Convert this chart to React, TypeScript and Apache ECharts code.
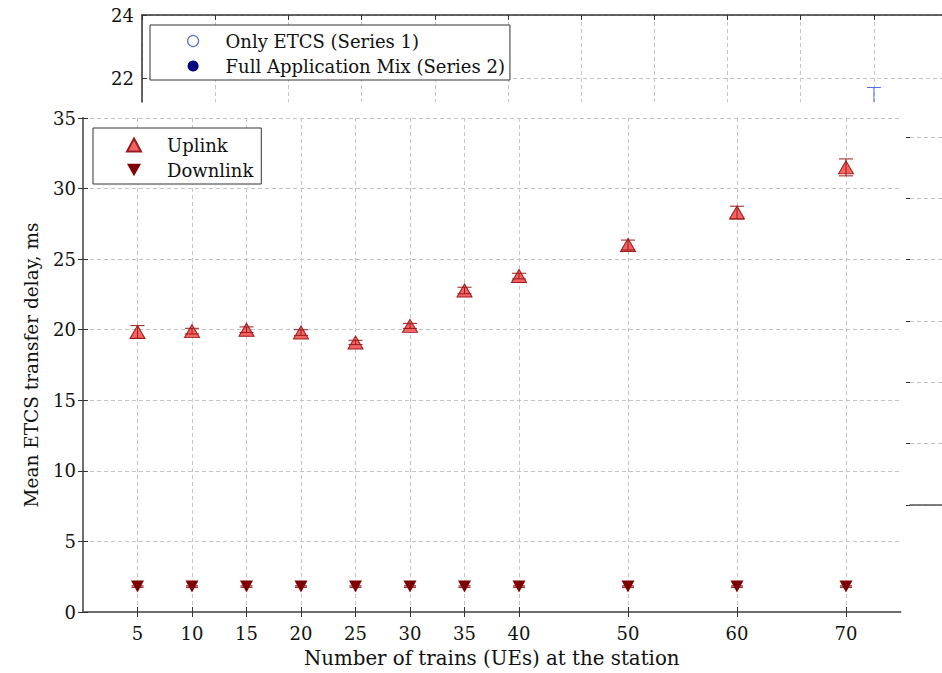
import React, { useEffect, useRef } from "react";
import * as echarts from "echarts";

// ---- Main chart data ----
const trains = [5, 10, 15, 20, 25, 30, 35, 40, 50, 60, 70];
const uplink = [19.84, 19.9, 20.0, 19.8, 19.1, 20.27, 22.78, 23.8, 26.0, 28.3, 31.5];
const uplinkErr = [0.45, 0.2, 0.2, 0.2, 0.15, 0.18, 0.23, 0.2, 0.35, 0.45, 0.6];
const downlink = [1.8, 1.8, 1.8, 1.8, 1.8, 1.8, 1.8, 1.8, 1.8, 1.8, 1.8];
const downlinkErr = [0.05, 0.05, 0.05, 0.05, 0.05, 0.05, 0.05, 0.05, 0.05, 0.05, 0.05];
const xTickLabels = [5, 10, 15, 20, 25, 30, 35, 40, 50, 60, 70];
const yTicks = [0, 5, 10, 15, 20, 25, 30, 35];

// ---- Partially visible background figure (top) ----
const topYTicks = [22, 24];
const series1X = [10];
const series1Y = [21.1];
const series1Err = [0.6];

const FONT = "DejaVu Serif";
const UP_FILL = "#f46262";
const UP_EDGE = "#9b1c1c";
const DOWN_FILL = "#7f0000";
const GRIDC = "#c4c4c4";

function makeErrRender(color: string, capHalf: number) {
  return (params: any, api: any) => {
    const x = api.value(0);
    const y = api.value(1);
    const e = api.value(2);
    const top = api.coord([x, y + e]);
    const bot = api.coord([x, y - e]);
    const cs = params.coordSys;
    const yMin = cs.y;
    const yMax = cs.y + cs.height;
    const clamp = (v: number) => Math.max(yMin, Math.min(yMax, v));
    const style = { stroke: color, lineWidth: 1, fill: "none" };
    const children: any[] = [];
    const t = clamp(top[1]);
    const b = clamp(bot[1]);
    if (b > t) {
      children.push({ type: "line", shape: { x1: top[0], y1: t, x2: top[0], y2: b }, style });
    }
    if (top[1] >= yMin && top[1] <= yMax) {
      children.push({ type: "line", shape: { x1: top[0] - capHalf, y1: top[1], x2: top[0] + capHalf, y2: top[1] }, style });
    }
    if (bot[1] >= yMin && bot[1] <= yMax) {
      children.push({ type: "line", shape: { x1: bot[0] - capHalf, y1: bot[1], x2: bot[0] + capHalf, y2: bot[1] }, style });
    }
    return { type: "group", children };
  };
}

export default function App() {
  const ref = useRef<HTMLDivElement>(null);

  useEffect(() => {
    if (!ref.current) return;
    const chart = echarts.init(ref.current, null, { renderer: "svg" });

    const upData = trains.map((t, i) => [t, uplink[i]]);
    const downData = trains.map((t, i) => [t, downlink[i]]);
    const upErrData = trains.map((t, i) => [t, uplink[i], uplinkErr[i]]);
    const downErrData = trains.map((t, i) => [t, downlink[i], downlinkErr[i]]);
    const s1ErrData = series1X.map((x, i) => [x, series1Y[i], series1Err[i]]);

    const labelStyle = { fontFamily: FONT, fontSize: 18, color: "#111" };
    const dashed = { show: true, lineStyle: { color: GRIDC, type: [4, 3] as any, width: 1 } };

    const option: any = {
      animation: false,
      backgroundColor: "#fff",
      textStyle: { fontFamily: FONT },
      grid: [
        { left: 83, top: 118, width: 817.5, height: 497 },
        { left: 142, top: 15, width: 800, height: 87 },
        { left: 910, top: 137, width: 34, height: 368 },
      ],
      xAxis: [
        {
          gridIndex: 0,
          type: "value",
          min: 0,
          max: 75,
          interval: 5,
          position: "bottom",
          axisLine: { show: true, lineStyle: { color: "#222", width: 1.5 } },
          axisTick: { show: true, inside: true, length: 5, lineStyle: { color: "#333" }, customValues: xTickLabels },
          axisLabel: { ...labelStyle, margin: 12, customValues: xTickLabels },
          splitLine: dashed,
          name: "Number of trains (UEs) at the station",
          nameLocation: "middle",
          nameGap: 36,
          nameTextStyle: { fontFamily: FONT, fontSize: 19.8, color: "#111" },
        },
        {
          gridIndex: 0,
          type: "value",
          min: 0,
          max: 75,
          interval: 5,
          position: "top",
          axisLine: { show: true, lineStyle: { color: "#777", width: 1.5 } },
          axisTick: { show: true, inside: true, length: 5, lineStyle: { color: "#333" }, customValues: xTickLabels },
          axisLabel: { show: false },
          splitLine: { show: false },
        },
        {
          gridIndex: 1,
          type: "value",
          min: 0,
          max: 10.93,
          interval: 1,
          position: "top",
          axisLine: { show: true, lineStyle: { color: "#333", width: 1.5 } },
          axisTick: { show: true, inside: true, length: 5, lineStyle: { color: "#333" } },
          axisLabel: { show: false },
          splitLine: dashed,
        },
        {
          gridIndex: 2,
          type: "value",
          min: 0,
          max: 1,
          position: "bottom",
          axisLine: { show: true, lineStyle: { color: "#555", width: 1.5 } },
          axisTick: { show: false },
          axisLabel: { show: false },
          splitLine: { show: false },
        },
      ],
      yAxis: [
        {
          gridIndex: 0,
          type: "value",
          min: 0,
          max: 35,
          interval: 5,
          position: "left",
          axisLine: { show: true, lineStyle: { color: "#222", width: 1.5 } },
          axisTick: { show: true, inside: true, length: 5, lineStyle: { color: "#333" } },
          axisLabel: { ...labelStyle, margin: 7, customValues: yTicks },
          splitLine: dashed,
          name: "Mean ETCS transfer delay, ms",
          nameLocation: "middle",
          nameGap: 42,
          nameTextStyle: { fontFamily: FONT, fontSize: 18.5, color: "#111" },
        },
        {
          gridIndex: 0,
          type: "value",
          min: 0,
          max: 35,
          interval: 5,
          position: "right",
          axisLine: { show: true, lineStyle: { color: "#777", width: 1.5 } },
          axisTick: { show: true, inside: true, length: 5, lineStyle: { color: "#333" } },
          axisLabel: { show: false },
          splitLine: { show: false },
        },
        {
          gridIndex: 1,
          type: "value",
          min: 21.24,
          max: 24,
          position: "left",
          axisLine: { show: true, lineStyle: { color: "#333", width: 1.5 } },
          axisTick: { show: true, inside: true, length: 5, lineStyle: { color: "#333" }, customValues: topYTicks },
          axisLabel: { ...labelStyle, margin: 8, customValues: topYTicks },
          splitLine: dashed,
        },
        {
          gridIndex: 2,
          type: "value",
          min: 0,
          max: 6,
          interval: 1,
          position: "right",
          axisLine: { show: false },
          axisTick: { show: true, inside: true, length: 4, lineStyle: { color: "#333" } },
          axisLabel: { show: false },
          splitLine: dashed,
        },
      ],
      legend: [
        {
          show: true,
          orient: "vertical",
          left: 93,
          top: 128,
          padding: [7, 8, 4, 33],
          itemWidth: 14,
          itemHeight: 13,
          itemGap: 5,
          selectedMode: false,
          backgroundColor: "#fff",
          borderColor: "#333",
          borderWidth: 1,
          borderRadius: 0,
          textStyle: { fontFamily: FONT, fontSize: 18, color: "#111", lineHeight: 20, padding: [0, 0, 0, 21] },
          data: ["Uplink", "Downlink"],
        },
        {
          show: true,
          orient: "vertical",
          left: 150,
          top: 25,
          padding: [6, 5, 4, 37],
          itemWidth: 11,
          itemHeight: 11,
          itemGap: 5,
          selectedMode: false,
          backgroundColor: "#fff",
          borderColor: "#333",
          borderWidth: 1,
          borderRadius: 0,
          textStyle: { fontFamily: FONT, fontSize: 18, color: "#111", lineHeight: 20, padding: [0, 0, 0, 22] },
          data: [
            { name: "Only ETCS (Series 1)", icon: "circle", itemStyle: { color: "#fff", borderColor: "#5b6fd8", borderWidth: 1.2, opacity: 1 } },
            { name: "Full Application Mix (Series 2)", icon: "circle", itemStyle: { color: "#000080", borderWidth: 0, opacity: 1 } },
          ],
        },
      ],
      series: [
        {
          name: "Uplink",
          type: "scatter",
          xAxisIndex: 0,
          yAxisIndex: 0,
          symbol: "triangle",
          symbolSize: [15, 13],
          itemStyle: { color: UP_FILL, borderColor: UP_EDGE, borderWidth: 1, opacity: 1 },
          data: upData,
          z: 3,
        },
        {
          name: "Downlink",
          type: "scatter",
          xAxisIndex: 0,
          yAxisIndex: 0,
          symbol: "path://M0,0 L10,0 L5,9 Z",
          symbolSize: [13, 12],
          itemStyle: { color: DOWN_FILL, opacity: 1 },
          data: downData,
          z: 3,
        },
        {
          name: "Uplink error",
          type: "custom",
          xAxisIndex: 0,
          yAxisIndex: 0,
          renderItem: makeErrRender(UP_EDGE, 7),
          data: upErrData,
          z: 4,
          silent: true,
        },
        {
          name: "Downlink error",
          type: "custom",
          xAxisIndex: 0,
          yAxisIndex: 0,
          renderItem: makeErrRender(DOWN_FILL, 6),
          data: downErrData,
          z: 4,
          silent: true,
        },
        {
          name: "Only ETCS (Series 1)",
          type: "scatter",
          xAxisIndex: 2,
          yAxisIndex: 2,
          symbol: "emptyCircle",
          itemStyle: { color: "#5b6fd8", opacity: 1 },
          data: [],
        },
        {
          name: "Full Application Mix (Series 2)",
          type: "scatter",
          xAxisIndex: 2,
          yAxisIndex: 2,
          symbol: "circle",
          itemStyle: { color: "#000080", opacity: 1 },
          data: [],
        },
        {
          name: "Only ETCS error",
          type: "custom",
          xAxisIndex: 2,
          yAxisIndex: 2,
          renderItem: makeErrRender("#4f6fe0", 7),
          data: s1ErrData,
          silent: true,
        },
      ],
    };

    chart.setOption(option);
    return () => chart.dispose();
  }, []);

  return (
    <div
      ref={ref}
      style={{ position: "absolute", left: 0, top: 0, width: 942, height: 673, background: "#fff" }}
    />
  );
}
